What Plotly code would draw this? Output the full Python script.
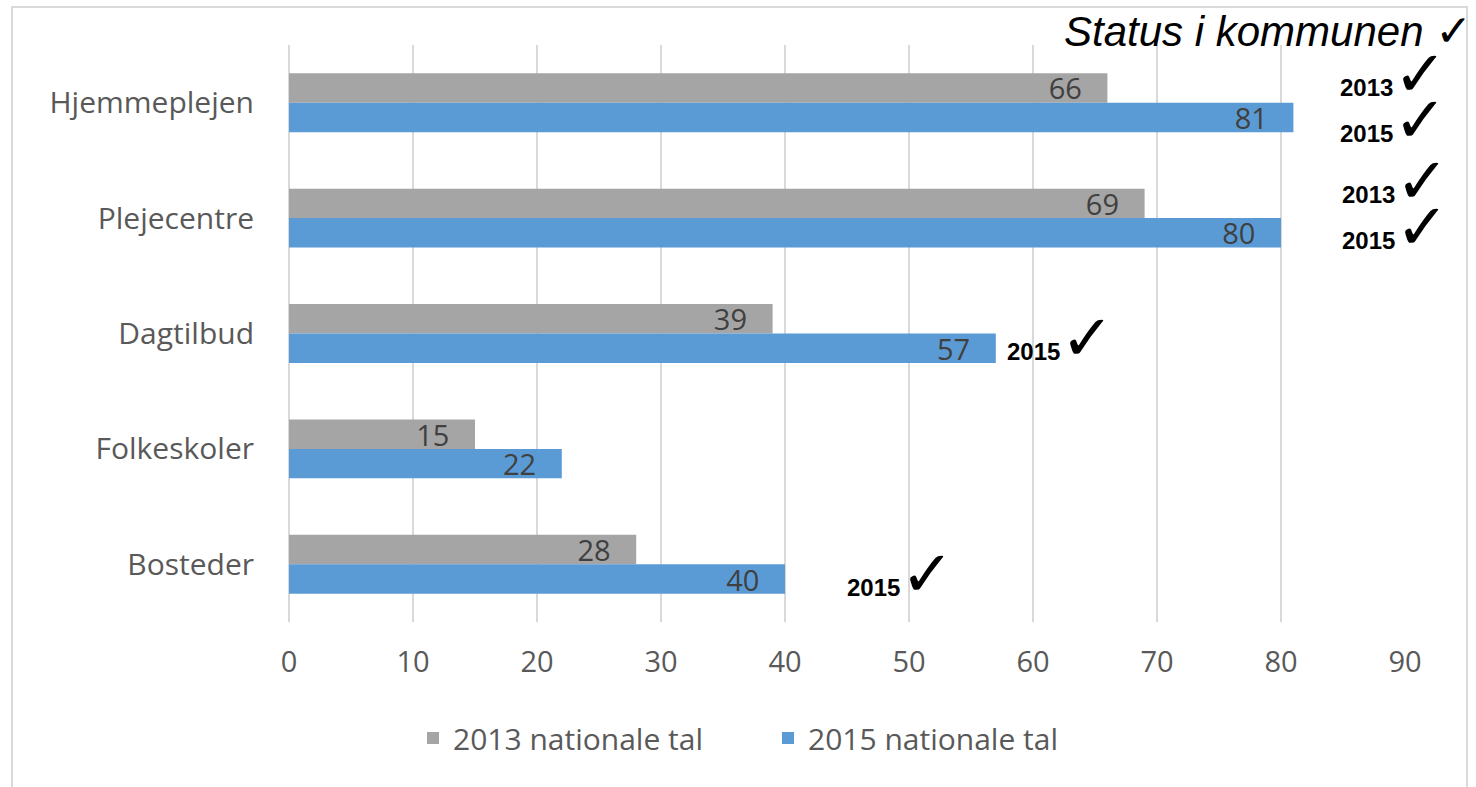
import plotly.graph_objects as go

categories = ["Hjemmeplejen", "Plejecentre", "Dagtilbud", "Folkeskoler", "Bosteder"]
values_2013 = [66, 69, 39, 15, 28]
values_2015 = [81, 80, 57, 22, 40]
series_names = ["2013 nationale tal", "2015 nationale tal"]
x_ticks = [0, 10, 20, 30, 40, 50, 60, 70, 80, 90]
title_text = "Status i kommunen"
# (years noted, pixel left x, pixel bottom y) for the "year ✓" notes
notes = [
    (["2013", "2015"], 1338, 159),
    (["2013", "2015"], 1340, 266),
    (["2015"], 1005, 377),
    (["2015"], 845, 613),
]

W, H = 1476, 787
L, R, T, B = 289, 1405, 45, 622
FONT = "Open Sans, Lato, sans-serif"
GRAY = "#A5A5A5"
BLUE = "#5B9BD5"
NBSP = "\u00a0\u00a0\u00a0"
CHECK = "<span style='font-family:DejaVu Sans;font-size:{}px;font-weight:normal'>✓</span>"
YEAR = "<span style='font-size:24px'><b>{}</b></span>"


def px(x):
    return (x - L) / (R - L)


def py(y):
    return (B - y) / (B - T)


fig = go.Figure()
for name, vals, col in [(series_names[0], values_2013, GRAY), (series_names[1], values_2015, BLUE)]:
    fig.add_trace(go.Bar(
        y=categories, x=vals, name=name, orientation="h",
        marker=dict(color=col, line=dict(width=0)),
        text=[f"{v}{NBSP}" for v in vals], textposition="inside",
        insidetextanchor="end", textangle=0, constraintext="none",
        insidetextfont=dict(family=FONT, size=29, color="#404040"),
        hoverinfo="x+y",
    ))

ann = []
ann.append(dict(text=f"<i>{title_text}</i>\u00a0" + CHECK.format(44), x=px(1062), y=py(58),
                xref="paper", yref="paper", showarrow=False,
                font=dict(family="Liberation Sans, Arial", size=42, color="black"),
                xanchor="left", yanchor="bottom"))
for years, lx, by in notes:
    txt = "<br>".join(YEAR.format(yr) + CHECK.format(64) for yr in years)
    ann.append(dict(text=txt, x=px(lx), y=py(by), xref="paper", yref="paper", align="left",
                    showarrow=False, font=dict(family="Liberation Sans, Arial", size=35, color="black"),
                    xanchor="left", yanchor="bottom"))

fig.update_layout(
    width=W, height=H,
    margin=dict(l=L, r=W - R, t=T, b=H - B, autoexpand=False),
    paper_bgcolor="white", plot_bgcolor="white",
    barmode="group", bargap=0.49, bargroupgap=0,
    showlegend=True,
    legend=dict(orientation="h", x=px(768), y=py(738), xanchor="center", yanchor="middle",
                font=dict(family=FONT, size=30, color="#595959"), entrywidth=310,
                traceorder="normal", bgcolor="rgba(0,0,0,0)"),
    annotations=ann,
    shapes=[dict(type="rect", xref="paper", yref="paper", x0=px(12), x1=px(1467), y0=py(800), y1=py(7),
                 line=dict(color="#D9D9D9", width=2), fillcolor="rgba(0,0,0,0)", layer="below")],
    xaxis=dict(range=[0, 90], tickvals=x_ticks, showgrid=True, gridcolor="#D9D9D9", gridwidth=2,
               zeroline=True, zerolinecolor="#D9D9D9", zerolinewidth=2, showline=False, ticks="",
               tickfont=dict(family=FONT, size=29, color="#595959"), ticklabelstandoff=20,
               fixedrange=True),
    yaxis=dict(autorange="reversed", categoryorder="array", categoryarray=categories,
               showgrid=False, showline=False, ticks="", ticklabelstandoff=34,
               tickfont=dict(family=FONT, size=30, color="#595959"), fixedrange=True),
)

fig.write_html("out.html", config={"displayModeBar": False},
               post_script="document.body.style.margin='0';document.body.style.overflow='hidden';")
